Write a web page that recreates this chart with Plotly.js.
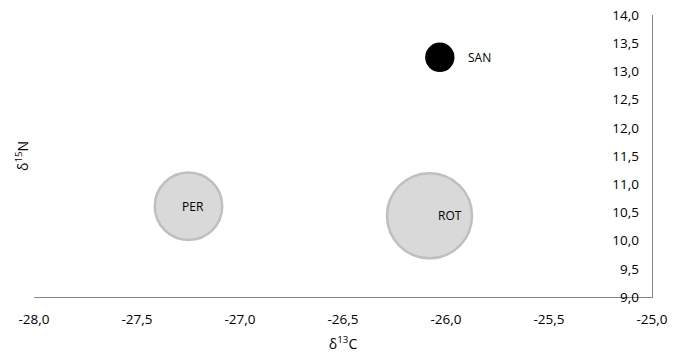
<!DOCTYPE html>
<html><head><meta charset="utf-8">
<script src="https://cdn.plot.ly/plotly-3.0.1.min.js"></script>
<style>body{margin:0;background:#fff}</style></head>
<body><div id="chart" style="width:688px;height:360px"></div>
<script>
const labels = ["SAN", "PER", "ROT"];
const d13C = [-26.03, -27.25, -26.08];
const d15N = [13.25, 10.61, 10.44];
const bubbleSize = [1.0, 6.3, 10.0];
const xTicks = [-28, -27.5, -27, -26.5, -26, -25.5, -25];
const yTicks = [9, 9.5, 10, 10.5, 11, 11.5, 12, 12.5, 13, 13.5, 14];

const fmt = v => v.toFixed(1).replace('.', ',');
const fillColors = ['#000000', '#d9d9d9', '#d9d9d9'];
const lineColors = ['#000000', '#bfbfbf', '#bfbfbf'];
const labelShift = [40, 4, 20];
const FONT = 'Open Sans, sans-serif';

const trace = {
  type: 'scatter', mode: 'markers',
  x: d13C, y: d15N, text: labels, hoverinfo: 'text',
  cliponaxis: false,
  marker: {
    size: bubbleSize, sizemode: 'area', sizeref: 10 / (2 * 42.5 * 42.5),
    color: fillColors, opacity: 1,
    line: {color: lineColors, width: 2.5}
  }
};
// invisible companion trace so the label axis on the right is drawn
const labelAxisTrace = {
  type: 'scatter', mode: 'markers', x: d13C, y: d15N, yaxis: 'y2',
  marker: {opacity: 0}, hoverinfo: 'skip'
};

const annotations = labels.map((t, i) => ({
  x: d13C[i], y: d15N[i], xref: 'x', yref: 'y', text: t, showarrow: false,
  xshift: labelShift[i], font: {family: FONT, size: 12, color: '#000'}
}));
annotations.push({
  xref: 'paper', yref: 'paper', x: 0, y: 0.5, xanchor: 'center', yanchor: 'middle',
  xshift: -12, textangle: -90,
  text: 'δ<sup>15</sup>N', showarrow: false, font: {family: FONT, size: 14, color: '#000'}
});

const layout = {
  width: 688, height: 360,
  margin: {l: 34, r: 36, t: 15, b: 63},
  paper_bgcolor: '#fff', plot_bgcolor: '#fff',
  showlegend: false,
  font: {family: FONT, size: 13.5, color: '#000'},
  xaxis: {
    range: [-28, -25], tickvals: xTicks, ticktext: xTicks.map(fmt),
    showline: true, linecolor: '#868686', linewidth: 1,
    showgrid: false, zeroline: false, ticks: '',
    ticklabelstandoff: 10,
    title: {text: 'δ<sup>13</sup>C', font: {family: FONT, size: 14}, standoff: 11}
  },
  yaxis: {
    range: [9, 14], side: 'right', showticklabels: false,
    showline: true, linecolor: '#868686', linewidth: 1,
    showgrid: false, zeroline: false, ticks: ''
  },
  yaxis2: {
    range: [9, 14], overlaying: 'y', anchor: 'free', position: 1, side: 'left',
    tickvals: yTicks, ticktext: yTicks.map(fmt),
    showline: false, showgrid: false, zeroline: false, ticks: '',
    ticklabelstandoff: 13
  },
  annotations: annotations
};

Plotly.newPlot('chart', [trace, labelAxisTrace], layout, {displayModeBar: false, staticPlot: true});
</script></body></html>
